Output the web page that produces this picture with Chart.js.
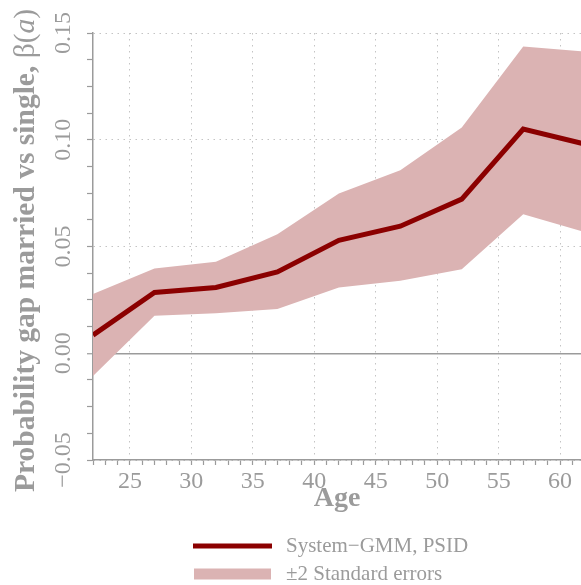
<!DOCTYPE html>
<html>
<head>
<meta charset="utf-8">
<script src="https://cdn.jsdelivr.net/npm/chart.js@4.4.1/dist/chart.umd.min.js"></script>
<style>
  html, body { margin: 0; padding: 0; background: #fff; }
  #wrap { width: 581px; height: 585px; position: relative; }
</style>
</head>
<body>
<div id="wrap"><canvas id="myChart"></canvas></div>
<script>
// values
var ages = [22, 27, 32, 37, 42, 47, 52, 57, 62]
var estimate = [0.0085, 0.0285, 0.0308, 0.0381, 0.0529, 0.0595, 0.0722, 0.1050, 0.0980]
var upperBand = [0.0277, 0.0397, 0.0428, 0.0557, 0.0748, 0.0857, 0.1057, 0.1437, 0.1413]
var lowerBand = [-0.0106, 0.0176, 0.0187, 0.0207, 0.0308, 0.0339, 0.0394, 0.0651, 0.0568]

var xMajorTicks = [25, 30, 35, 40, 45, 50, 55, 60]
var yMajorTicks = [-0.05, 0.00, 0.05, 0.10, 0.15]
var xMinorTicks = [22, 23, 24, 25, 26, 27, 28, 29, 30, 31, 32, 33, 34, 35, 36, 37, 38, 39, 40, 41,
                   42, 43, 44, 45, 46, 47, 48, 49, 50, 51, 52, 53, 54, 55, 56, 57, 58, 59, 60, 61]
var yMinorTicks = [-0.05, -0.0375, -0.025, -0.0125, 0, 0.0125, 0.025, 0.0375, 0.05, 0.0625, 0.075,
                   0.0875, 0.1, 0.1125, 0.125, 0.1375, 0.15]

var lineLabel = 'System\u2212GMM, PSID'
var bandLabel = '\u00b12 Standard errors'

const grey = '#9b9b9b'
const serif = "'Liberation Serif', 'DejaVu Serif', serif"
const red = '#8b0000'
const pink = 'rgb(219, 179, 179)'

function isMajor(list, v) {
    return list.some(function (m) { return Math.abs(m - v) < 1e-6 })
}

function toXY(ys) {
    return ages.map(function (a, i) { return { x: a, y: ys[i] } })
}

// rotated y title with a bold part and an italic a
const yTitle = {
    id: 'yTitle',
    afterDraw(chart) {
        const ctx = chart.ctx
        const area = chart.chartArea
        const parts = [
            ['Probability gap married vs single, ', 'bold 29.5px ' + serif],
            ['\u03b2(', '29.5px ' + serif],
            ['a', 'italic 29.5px ' + serif],
            [')', '29.5px ' + serif]
        ]
        let total = 0
        parts.forEach(function (p) { ctx.font = p[1]; total += ctx.measureText(p[0]).width })
        ctx.save()
        ctx.translate(26, (area.top + area.bottom) / 2 + 4)
        ctx.rotate(-Math.PI / 2)
        ctx.fillStyle = grey
        ctx.textBaseline = 'middle'
        ctx.textAlign = 'left'
        let x = -total / 2
        parts.forEach(function (p) {
            ctx.font = p[1]
            ctx.fillText(p[0], x, 0)
            x += ctx.measureText(p[0]).width
        })
        ctx.restore()
    }
}

// legend under the axis, two rows
const bottomLegend = {
    id: 'bottomLegend',
    afterDraw(chart) {
        const ctx = chart.ctx
        const ds = chart.data.datasets
        ctx.save()
        ctx.strokeStyle = ds[0].borderColor
        ctx.lineWidth = 5
        ctx.beginPath()
        ctx.moveTo(193, 546)
        ctx.lineTo(272, 546)
        ctx.stroke()
        ctx.fillStyle = ds[1].backgroundColor
        ctx.fillRect(194, 568.5, 77, 11)
        ctx.fillStyle = grey
        ctx.font = '21px ' + serif
        ctx.textBaseline = 'middle'
        ctx.fillText(ds[0].label, 286, 546)
        ctx.fillText(ds[1].label, 286, 574)
        ctx.restore()
    }
}

const config = {
    type: 'line',
    data: {
        datasets: [{
            label: lineLabel,
            data: toXY(estimate),
            borderColor: red,
            borderWidth: 5,
            borderJoinStyle: 'miter',
            pointRadius: 0,
            fill: false
        }, {
            label: bandLabel,
            data: toXY(upperBand),
            borderWidth: 0,
            borderColor: pink,
            backgroundColor: pink,
            pointRadius: 0,
            fill: '+1'
        }, {
            label: 'lower',
            data: toXY(lowerBand),
            borderWidth: 0,
            borderColor: pink,
            pointRadius: 0,
            fill: false
        }]
    },
    options: {
        responsive: true,
        maintainAspectRatio: false,
        animation: false,
        layout: { padding: { top: 33, left: 0, right: 0, bottom: 0 } },
        plugins: {
            legend: { display: false },
            tooltip: { enabled: false }
        },
        scales: {
            x: {
                type: 'linear',
                min: 22,
                max: 61.7,
                afterBuildTicks: function (axis) {
                    axis.ticks = xMinorTicks.map(function (v) { return { value: v } })
                },
                afterFit: function (axis) { axis.height = 125 },
                ticks: {
                    autoSkip: false,
                    maxRotation: 0,
                    padding: 2,
                    color: grey,
                    font: { family: serif, size: 24, lineHeight: 1.2 },
                    callback: function (v) { return isMajor(xMajorTicks, v) ? String(v) : '' }
                },
                grid: {
                    color: function (c) { return c.tick && isMajor(xMajorTicks, c.tick.value) ? '#c4c4c4' : 'rgba(0,0,0,0)' },
                    lineWidth: 1,
                    tickColor: grey,
                    tickLength: 5,
                    tickWidth: 1.2
                },
                border: { color: grey, width: 1.5, dash: [1.5, 4.5] },
                title: {
                    display: true,
                    text: 'Age',
                    color: grey,
                    font: { family: serif, size: 28, weight: 'bold', lineHeight: 1 },
                    padding: { top: 0, bottom: 72 }
                }
            },
            y: {
                type: 'linear',
                min: -0.05,
                max: 0.15,
                afterBuildTicks: function (axis) {
                    axis.ticks = yMinorTicks.map(function (v) { return { value: v } })
                },
                afterFit: function (axis) { axis.width = 93 },
                ticks: {
                    autoSkip: false,
                    minRotation: 90,
                    maxRotation: 90,
                    crossAlign: 'center',
                    padding: -4,
                    color: grey,
                    font: { family: serif, size: 24 },
                    callback: function (v) {
                        if (!isMajor(yMajorTicks, v)) return ''
                        return v < 0 ? '\u2212' + Math.abs(v).toFixed(2) : v.toFixed(2)
                    }
                },
                grid: {
                    color: function (c) {
                        if (!c.tick) return 'rgba(0,0,0,0)'
                        if (Math.abs(c.tick.value) < 1e-6) return grey
                        return isMajor(yMajorTicks, c.tick.value) ? '#c4c4c4' : 'rgba(0,0,0,0)'
                    },
                    lineWidth: function (c) { return c.tick && Math.abs(c.tick.value) < 1e-6 ? 1.5 : 1 },
                    tickColor: grey,
                    tickLength: 6,
                    tickWidth: 1.2
                },
                border: {
                    color: grey,
                    width: 1.5,
                    dash: function (c) { return c.tick && Math.abs(c.tick.value) < 1e-6 ? [] : [1.5, 4.5] }
                }
            }
        }
    },
    plugins: [yTitle, bottomLegend]
}

const myChart = new Chart(document.getElementById('myChart'), config)
</script>
</body>
</html>
